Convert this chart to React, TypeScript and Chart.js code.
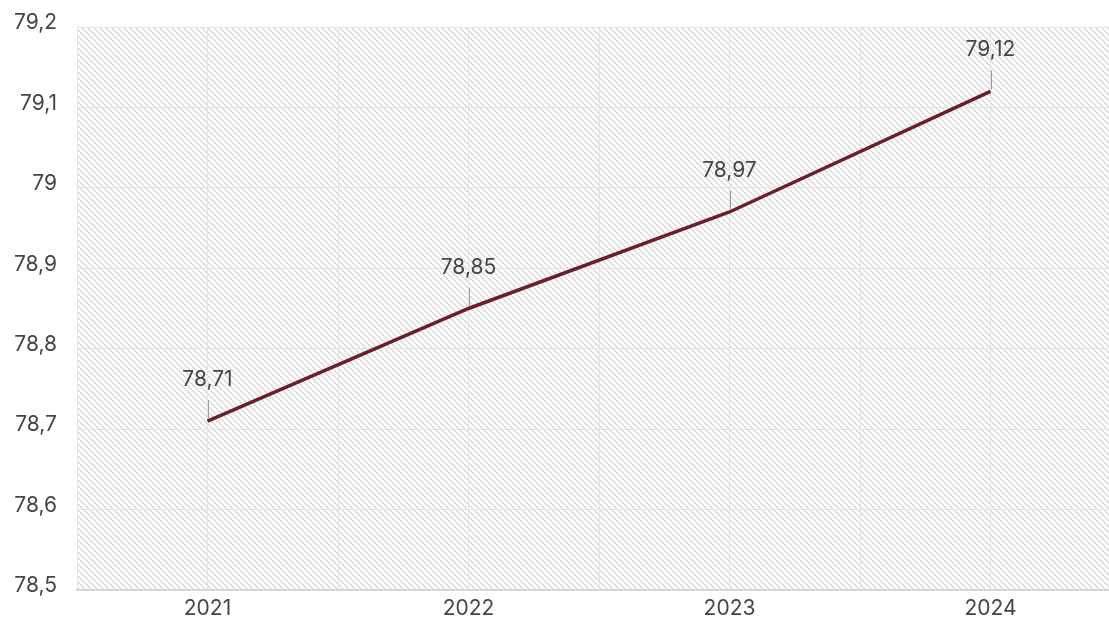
import React, { useEffect, useRef } from "react";
import { Chart, registerables } from "chart.js";

Chart.register(...registerables);

const years: number[] = [2021, 2022, 2023, 2024];
const values: number[] = [78.71, 78.85, 78.97, 79.12];
const yMin = 78.5;
const yMax = 79.2;
const yStep = 0.1;
const xTickValues: number[] = [2020.5, 2021, 2021.5, 2022, 2022.5, 2023, 2023.5, 2024, 2024.5];

const FONT = "Inter, 'Liberation Sans', Arial, sans-serif";
const TEXT = "#454545";
const LINE = "#6b1f2b";

function fmt(v: number, digits: number): string {
  const r = Math.round(v * Math.pow(10, digits)) / Math.pow(10, digits);
  return String(r).replace(".", ",");
}

function makePattern(): CanvasPattern | string {
  const s = 6;
  const c = document.createElement("canvas");
  c.width = s;
  c.height = s;
  const ctx = c.getContext("2d");
  if (!ctx) return "#fff";
  ctx.fillStyle = "#ffffff";
  ctx.fillRect(0, 0, s, s);
  ctx.strokeStyle = "#d0d0d0";
  ctx.lineWidth = 1.2;
  for (const o of [-s, 0, s]) {
    ctx.beginPath();
    ctx.moveTo(o, 0);
    ctx.lineTo(o + s, s);
    ctx.stroke();
  }
  const p = ctx.createPattern(c, "repeat");
  return p || "#fff";
}

const hatchPlugin = {
  id: "hatch",
  beforeDraw(chart: any) {
    const { ctx, chartArea } = chart;
    ctx.save();
    ctx.fillStyle = makePattern();
    ctx.fillRect(chartArea.left, chartArea.top, chartArea.right - chartArea.left, chartArea.bottom - chartArea.top);
    ctx.restore();
  },
};

const labelPlugin = {
  id: "pointLabels",
  afterDatasetsDraw(chart: any) {
    const { ctx } = chart;
    const meta = chart.getDatasetMeta(0);
    ctx.save();
    meta.data.forEach((pt: any, i: number) => {
      const x = Math.round(pt.x) + 0.5;
      const y = pt.y;
      ctx.strokeStyle = "#9a9a9a";
      ctx.lineWidth = 1;
      ctx.beginPath();
      ctx.moveTo(x, y - 2);
      ctx.lineTo(x, y - 21);
      ctx.stroke();
      ctx.fillStyle = TEXT;
      ctx.font = `21px ${FONT}`;
      ctx.textAlign = "center";
      ctx.textBaseline = "alphabetic";
      ctx.fillText(fmt(values[i], 2), pt.x, y - 35);
    });
    ctx.restore();
  },
};

export default function App() {
  const ref = useRef<HTMLCanvasElement | null>(null);
  useEffect(() => {
    if (!ref.current) return;
    const chart = new Chart(ref.current, {
      type: "line",
      data: {
        datasets: [
          {
            data: years.map((y, i) => ({ x: y, y: values[i] })),
            borderColor: LINE,
            backgroundColor: LINE,
            borderWidth: 3.5,
            pointRadius: 0,
            tension: 0,
          },
        ],
      },
      options: {
        responsive: false,
        animation: false,
        devicePixelRatio: 1,
        layout: { padding: { top: 27, left: 0, right: 0, bottom: 0 } },
        plugins: { legend: { display: false }, tooltip: { enabled: false } },
        scales: {
          x: {
            type: "linear",
            min: 2020.5,
            max: 2024.5,
            afterBuildTicks: (scale: any) => {
              scale.ticks = xTickValues.map((v) => ({ value: v }));
            },
            afterFit: (scale: any) => {
              scale.height = 32;
              scale.paddingLeft = 0;
              scale.paddingRight = 0;
            },
            grid: { color: "#e4e4e4", lineWidth: 1, drawTicks: false },
            border: { color: "#d6d6d6", width: 2 },
            ticks: {
              autoSkip: false,
              maxRotation: 0,
              padding: 6,
              color: TEXT,
              font: { family: FONT, size: 21 },
              callback: (v: any) => (Number.isInteger(v) ? String(v) : ""),
            },
          },
          y: {
            min: yMin,
            max: yMax,
            afterFit: (scale: any) => {
              scale.width = 77;
              scale.paddingTop = 0;
              scale.paddingBottom = 0;
            },
            grid: { color: "#e4e4e4", lineWidth: 1, drawTicks: false },
            border: { display: false },
            ticks: {
              stepSize: yStep,
              padding: 20,
              labelOffset: -4,
              color: TEXT,
              font: { family: FONT, size: 21 },
              callback: (v: any) => fmt(Number(v), 1),
            },
          },
        },
      },
      plugins: [hatchPlugin, labelPlugin],
    } as any);
    return () => chart.destroy();
  }, []);
  return (
    <div style={{ position: "fixed", left: 0, top: 0, width: 1109, height: 622, overflow: "hidden", background: "#fff" }}>
      <canvas ref={ref} width={1121} height={622} style={{ display: "block" }} />
    </div>
  );
}
